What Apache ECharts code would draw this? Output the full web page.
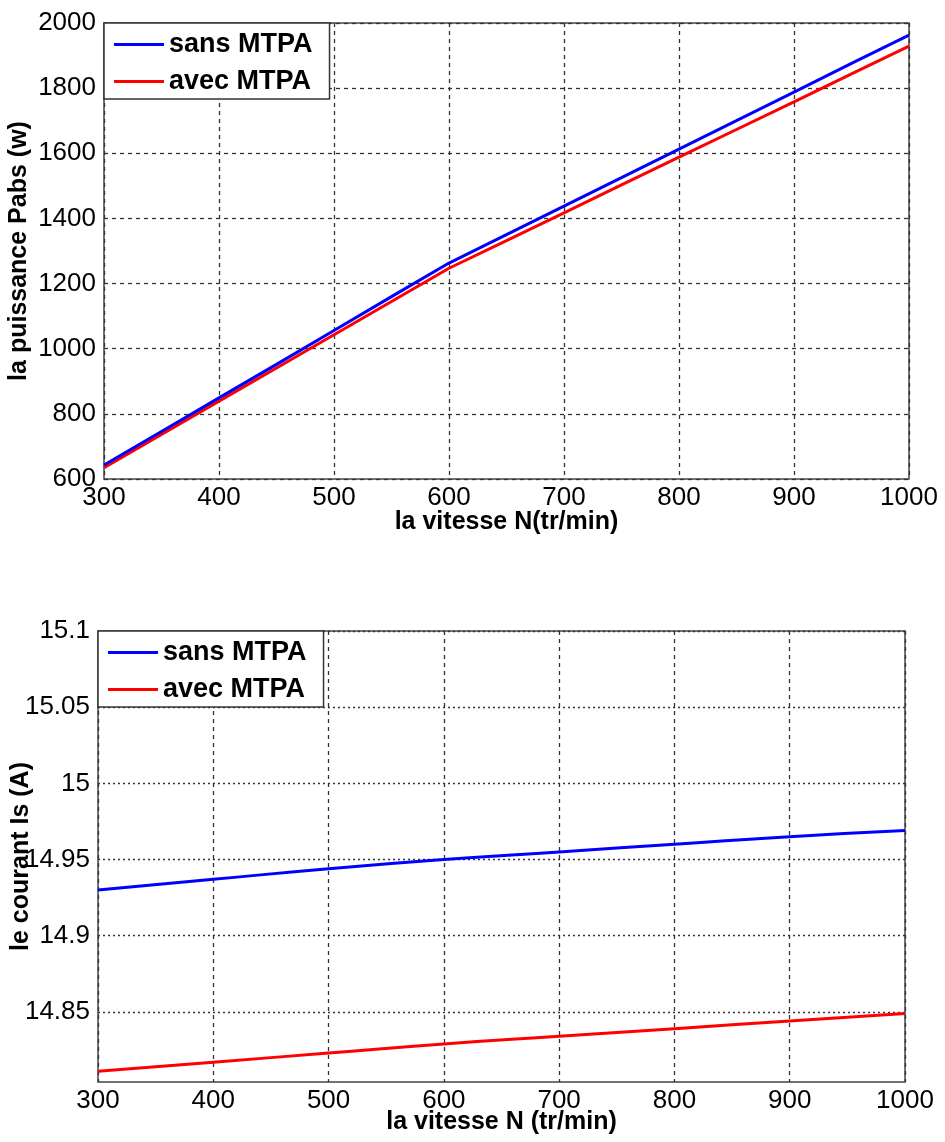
<!DOCTYPE html>
<html>
<head>
<meta charset="utf-8">
<script src="https://cdn.jsdelivr.net/npm/echarts@6/dist/echarts.min.js"></script>
<style>
html,body{margin:0;padding:0;background:#fff;}
#chart{width:945px;height:1142px;}
</style>
</head>
<body>
<div id="chart"></div>
<script>
// ---- data ----
const speed = [300, 350, 400, 450, 500, 550, 600, 650, 700, 750, 800, 850, 900, 950, 1000];
const powerSans = [643, 746, 849, 952, 1056, 1160, 1263, 1350, 1438, 1525, 1613, 1700, 1788, 1876, 1963];
const powerAvec = [635, 737, 839, 941, 1043, 1145, 1247, 1332, 1417, 1503, 1588, 1673, 1758, 1844, 1929];
const speed2 = [300, 400, 500, 600, 700, 800, 900, 1000];
const currentSans = [14.930, 14.937, 14.944, 14.950, 14.955, 14.960, 14.965, 14.969];
const currentAvec = [14.811, 14.817, 14.823, 14.829, 14.834, 14.839, 14.844, 14.849];
const currentTicks = [14.85, 14.9, 14.95, 15, 15.05, 15.1];
const seriesNames = ['sans MTPA', 'avec MTPA'];

const FONT = 'Liberation Sans, Arial, sans-serif';
const pair = (xs, ys) => xs.map((x, i) => [x, ys[i]]);
const plain = v => String(+(+v).toFixed(2));

const chart = echarts.init(document.getElementById('chart'));
const labelStyle = {color: '#000', fontSize: 26, fontFamily: FONT, formatter: plain};
const nameStyle = {color: '#000', fontSize: 25, fontFamily: FONT, fontWeight: 'bold'};
const gridDash = {show: true, lineStyle: {color: '#333', type: [4, 4], width: 1.3}};

const legendBase = {
  orient: 'vertical',
  backgroundColor: '#fff',
  borderColor: '#333',
  borderWidth: 1.5,
  borderRadius: 0,
  padding: [8, 17, 4, 10],
  itemWidth: 50,
  itemHeight: 3,
  itemGap: 10,
  icon: 'rect',
  data: seriesNames,
  textStyle: {color: '#000', fontSize: 27, fontWeight: 'bold', fontFamily: FONT},
  selectedMode: false
};

chart.setOption({
  animation: false,
  backgroundColor: '#fff',
  grid: [
    {left: 104, top: 23, width: 805, height: 456, show: true, borderColor: '#444', borderWidth: 1.5,
     backgroundColor: 'transparent', containLabel: false, outerBoundsMode: 'none'},
    {left: 98, top: 631, width: 807, height: 451, show: true, borderColor: '#444', borderWidth: 1.5,
     backgroundColor: 'transparent', containLabel: false, outerBoundsMode: 'none'}
  ],
  legend: [
    Object.assign({}, legendBase, {left: 104, top: 23}),
    Object.assign({}, legendBase, {left: 98, top: 631})
  ],
  xAxis: [
    {type: 'value', gridIndex: 0, min: 300, max: 1000, interval: 100,
     name: 'la vitesse N(tr/min)', nameLocation: 'middle', nameGap: 31, nameMoveOverlap: false, nameTextStyle: nameStyle,
     axisLine: {show: false}, axisTick: {show: false},
     axisLabel: Object.assign({margin: 6}, labelStyle), splitLine: gridDash},
    {type: 'value', gridIndex: 1, min: 300, max: 1000, interval: 100,
     name: 'la vitesse N (tr/min)', nameLocation: 'middle', nameGap: 28, nameMoveOverlap: false, nameTextStyle: nameStyle,
     axisLine: {show: false}, axisTick: {show: false},
     axisLabel: Object.assign({margin: 6}, labelStyle), splitLine: gridDash}
  ],
  yAxis: [
    {type: 'value', gridIndex: 0, min: 600, max: 2000, interval: 200,
     name: 'la puissance Pabs (w)', nameLocation: 'middle', nameGap: 72, nameMoveOverlap: false, nameTextStyle: nameStyle,
     axisLine: {show: false}, axisTick: {show: false},
     axisLabel: Object.assign({margin: 8}, labelStyle), splitLine: gridDash},
    {type: 'value', gridIndex: 1, min: 14.804, max: 15.1,
     name: 'le courant Is (A)', nameLocation: 'middle', nameGap: 64, nameMoveOverlap: false, nameTextStyle: nameStyle,
     axisLine: {show: false},
     axisTick: {show: false, customValues: currentTicks},
     axisLabel: Object.assign({margin: 8}, labelStyle, {customValues: currentTicks}),
     splitLine: {show: true, lineStyle: {color: '#333', type: [2, 3], width: 1.3}}}
  ],
  series: [
    {name: seriesNames[0], type: 'line', xAxisIndex: 0, yAxisIndex: 0, data: pair(speed, powerSans),
     showSymbol: false, lineStyle: {color: '#0000ff', width: 3}, itemStyle: {color: '#0000ff'}, z: 3},
    {name: seriesNames[1], type: 'line', xAxisIndex: 0, yAxisIndex: 0, data: pair(speed, powerAvec),
     showSymbol: false, lineStyle: {color: '#ff0000', width: 3}, itemStyle: {color: '#ff0000'}, z: 2},
    {name: seriesNames[0], type: 'line', xAxisIndex: 1, yAxisIndex: 1, data: pair(speed2, currentSans),
     showSymbol: false, smooth: true, lineStyle: {color: '#0000ff', width: 3}, itemStyle: {color: '#0000ff'}},
    {name: seriesNames[1], type: 'line', xAxisIndex: 1, yAxisIndex: 1, data: pair(speed2, currentAvec),
     showSymbol: false, smooth: true, lineStyle: {color: '#ff0000', width: 3}, itemStyle: {color: '#ff0000'}}
  ]
});
</script>
</body>
</html>
